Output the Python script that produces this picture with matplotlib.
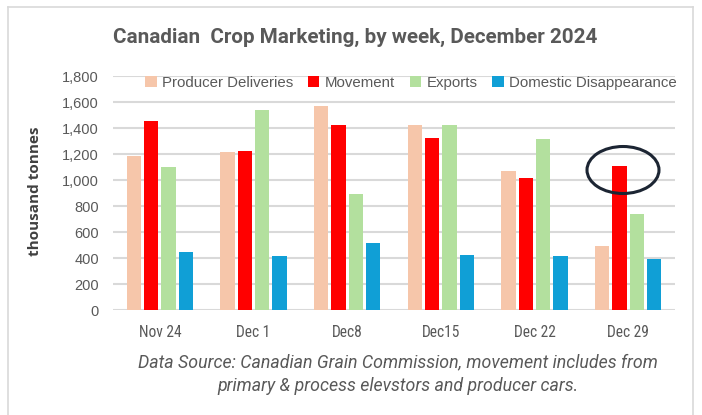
import matplotlib
matplotlib.use("Agg")
import matplotlib.pyplot as plt
from matplotlib.patches import Ellipse
from matplotlib.lines import Line2D
from matplotlib import font_manager
import numpy as np

weeks = ["Nov 24", "Dec 1", "Dec8", "Dec15", "Dec 22", "Dec 29"]
producer_deliveries = [1185, 1215, 1573, 1424, 1066, 489]
movement = [1454, 1220, 1425, 1325, 1016, 1108]
exports = [1103, 1538, 895, 1424, 1313, 741]
domestic = [446, 419, 516, 424, 416, 392]
series_names = ["Producer Deliveries", "Movement", "Exports", "Domestic Disappearance"]
colors = ["#F6C6AA", "#FF0000", "#B3E09E", "#109FD6"]
yticks = [0, 200, 400, 600, 800, 1000, 1200, 1400, 1600, 1800]

available = {f.name for f in font_manager.fontManager.ttflist}
narrow_name = None
for cand in ["Liberation Sans Narrow", "Roboto Condensed", "Open Sans Condensed", "Noto Sans Condensed"]:
    if cand in available:
        narrow_name = cand
        break
if narrow_name is None:
    narrow_name = "Roboto" if "Roboto" in available else "DejaVu Sans"
narrow = [narrow_name, "DejaVu Sans"]
plain = ["Liberation Sans", "DejaVu Sans"]
roboto = ["Roboto", "DejaVu Sans"]

W, H = 702, 415
fig = plt.figure(figsize=(W / 100, H / 100), dpi=100)

ax = fig.add_axes([113 / W, 1 - 310 / H, (675 - 113) / W, (310 - 76) / H])
x = np.arange(len(weeks))
step = 0.185
bw = 0.15
data = [producer_deliveries, movement, exports, domestic]
for i, (vals, c, name) in enumerate(zip(data, colors, series_names)):
    ax.bar(x + (i - 1.5) * step, vals, width=bw, color=c, label=name, zorder=3)

ax.set_xlim(-0.5, len(weeks) - 0.5)
ax.set_ylim(0, 1800)
ax.set_yticks(yticks)
ax.set_yticklabels([f"{v:,}" for v in yticks], fontfamily=plain, fontsize=10.5, color="#595959")
ax.set_xticks(x)
ax.set_xticklabels(weeks, fontfamily=narrow, fontsize=11.2, color="#595959")
ax.tick_params(axis="both", length=0)
ax.tick_params(axis="x", pad=11)
ax.tick_params(axis="y", pad=10)
ax.grid(axis="y", color="#D9D9D9", linewidth=1.5, zorder=0)
for s in ax.spines.values():
    s.set_visible(False)

ax.set_ylabel("thousand tonnes", fontfamily=["Open Sans", "DejaVu Sans"], fontweight="bold",
              fontsize=11, color="#404040")
ax.yaxis.set_label_coords(42 / W, (1 - 191 / H), transform=fig.transFigure)

leg = ax.legend(loc="center", bbox_to_anchor=(411 / W, 1 - 83 / H), bbox_transform=fig.transFigure,
                ncol=4, frameon=False, handlelength=0.75, handleheight=0.75, handletextpad=0.35,
                columnspacing=1.0, prop={"family": plain, "size": 10.8})
for t in leg.get_texts():
    t.set_color("#595959")

title = fig.text(355 / W, 1 - 37 / H, "Canadian  Crop Marketing, by week, December 2024",
                 ha="center", va="center", fontsize=15, fontweight="bold", color="#595959",
                 fontfamily=roboto)
cap1 = fig.text(398 / W, 1 - 362 / H, "Data Source: Canadian Grain Commission, movement includes from",
                ha="center", va="center", fontsize=12, style="italic", color="#595959", fontfamily=roboto)
cap2 = fig.text(398 / W, 1 - 386 / H, "primary & process elevstors and producer cars.",
                ha="center", va="center", fontsize=12, style="italic", color="#595959", fontfamily=roboto)

# fit text widths to the reference widths
renderer = fig.canvas.get_renderer()
for txt, target in [(title, 486), (cap1, 520)]:
    w = txt.get_window_extent(renderer).width
    txt.set_fontsize(txt.get_fontsize() * target / w)
cap2.set_fontsize(cap1.get_fontsize())

# highlight ellipse around last Movement bar
ell = Ellipse((623 / W, 1 - 170 / H), 72 / W, 47 / H, transform=fig.transFigure,
              fill=False, edgecolor="#1C2533", linewidth=2.2, zorder=10)
fig.patches.append(ell)

# outer frame
for xs, ys in [([8, 8], [H + 5, 7]), ([8, 693], [7, 7]), ([693, 693], [7, H + 5])]:
    fig.add_artist(Line2D([v / W for v in xs], [1 - v / H for v in ys], transform=fig.transFigure,
                          color="#D9D9D9", linewidth=1.2))

fig.savefig("out.png", dpi=100)
